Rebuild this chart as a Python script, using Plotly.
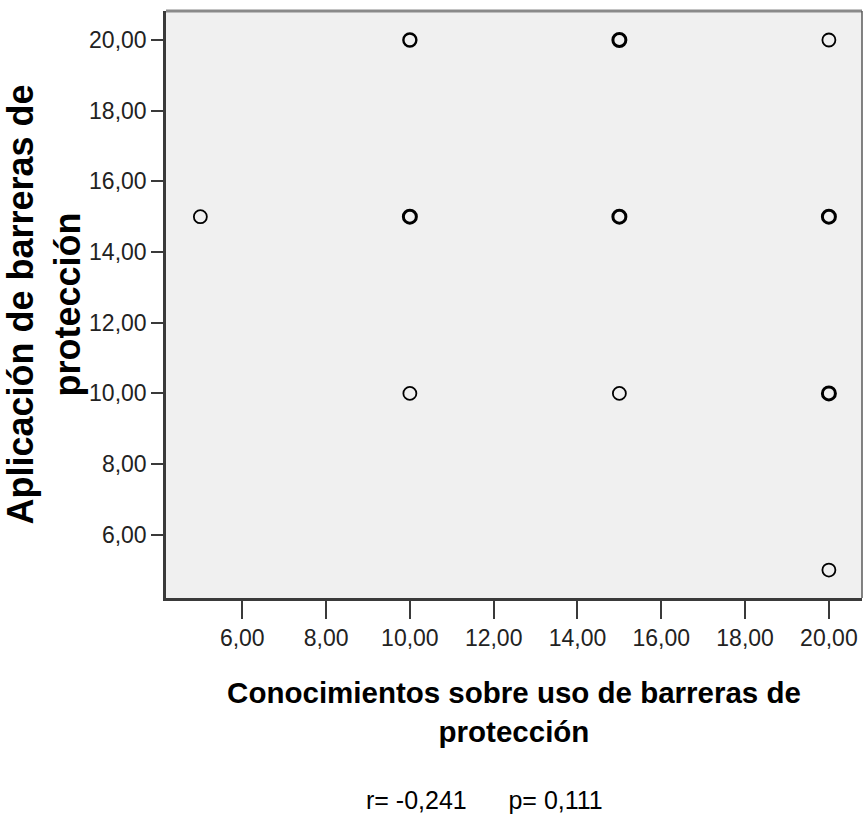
import plotly.graph_objects as go
import pandas as pd

# Raw observations (duplicates shown as darker/bolder rings)
conocimientos = [5, 10, 10, 10, 10, 10, 10, 15, 15, 15, 15, 15, 15, 15, 20, 20, 20, 20, 20, 20, 20, 20]
aplicacion    = [15, 20, 20, 15, 15, 15, 10, 20, 20, 20, 15, 15, 15, 10, 20, 15, 15, 15, 10, 10, 10, 5]

tick_vals = [6, 8, 10, 12, 14, 16, 18, 20]
tick_text = ["6,00", "8,00", "10,00", "12,00", "14,00", "16,00", "18,00", "20,00"]

x_title = "Conocimientos sobre uso de barreras de<br>protección"
y_title = "Aplicación de barreras de<br>protección"
stats_text = "r= -0,241&nbsp;&nbsp;&nbsp;&nbsp;&nbsp;&nbsp;p= 0,111"

df = pd.DataFrame({"x": conocimientos, "y": aplicacion})
grp = df.groupby(["x", "y"]).size().reset_index(name="n")
widths = [1.8 if n == 1 else (2.4 if n == 2 else 3.0) for n in grp["n"]]

fig = go.Figure()
fig.add_trace(go.Scatter(
    x=grp["x"], y=grp["y"], mode="markers",
    marker=dict(symbol="circle-open", size=13, color="#000000",
                line=dict(width=widths, color="#000000")),
    showlegend=False, hoverinfo="x+y",
))

font_main = "Liberation Sans, Arial, sans-serif"

fig.update_layout(
    width=864, height=817,
    margin=dict(l=166, r=2, t=11, b=219),
    paper_bgcolor="white",
    plot_bgcolor="#F0F0F0",
    font=dict(family=font_main, color="#000000"),
    xaxis=dict(
        range=[4.18, 20.79], tickmode="array", tickvals=tick_vals, ticktext=tick_text,
        ticks="outside", ticklen=18, tickwidth=2, tickcolor="#3a3a3a",
        showline=True, linecolor="#3a3a3a", linewidth=2.5,
        showgrid=False, zeroline=False,
        tickfont=dict(size=23, family=font_main, color="#222222"),
        title=dict(text="<b>" + x_title + "</b>", standoff=33,
                   font=dict(size=29.5, family=font_main, color="#000000")),
    ),
    yaxis=dict(
        range=[4.21, 20.82], tickmode="array", tickvals=tick_vals, ticktext=tick_text,
        ticks="outside", ticklen=12, tickwidth=2, tickcolor="#3a3a3a",
        showline=True, linecolor="#3a3a3a", linewidth=2.5,
        showgrid=False, zeroline=False,
        tickfont=dict(size=23, family=font_main, color="#222222"),
        title=dict(text="<b>" + y_title + "</b>", standoff=16,
                   font=dict(size=36, family=font_main, color="#000000")),
    ),
    annotations=[dict(
        text=stats_text, xref="paper", yref="paper", x=0.458, y=-0.344,
        xanchor="center", yanchor="middle", showarrow=False,
        font=dict(size=25, family=font_main, color="#000000"),
    )],
    shapes=[
        dict(type="line", xref="paper", yref="paper", x0=0, x1=1, y0=1, y1=1,
             line=dict(color="#8a8a8a", width=3)),
        dict(type="line", xref="paper", yref="paper", x0=1, x1=1, y0=0, y1=1,
             line=dict(color="#5a5a5a", width=1.5)),
    ],
)

fig.write_html(
    "out.html",
    config={"displayModeBar": False},
    post_script="document.body.style.margin='0px';document.body.style.overflow='hidden';",
)
